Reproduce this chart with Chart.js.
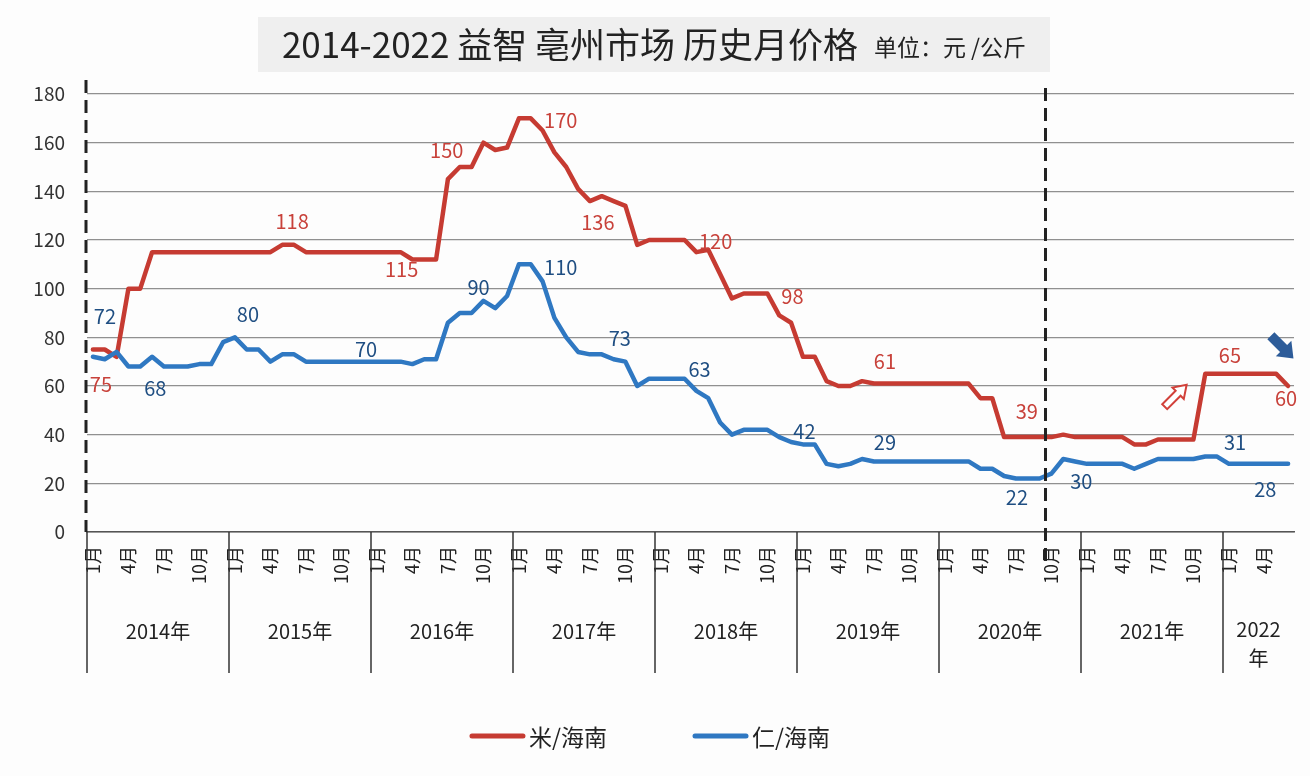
<!DOCTYPE html>
<html>
<head>
<meta charset="utf-8">
<script src="https://cdn.jsdelivr.net/npm/chart.js@4/dist/chart.umd.min.js"></script>
<style>
  html, body { margin: 0; padding: 0; background: #fdfdfd; }
  #wrap { width: 1310px; height: 776px; position: relative; }
</style>
</head>
<body>
<div id="wrap"><canvas id="c" width="1310" height="776"></canvas></div>
<script>
// 2014-2022 益智 亳州市场 历史月价格

const FONT = '"Noto Sans CJK SC", "Noto Sans", sans-serif';

const monthNames = ['1月', '2月', '3月', '4月', '5月', '6月', '7月', '8月', '9月', '10月', '11月', '12月'];
const years = ['2014年', '2015年', '2016年', '2017年', '2018年', '2019年', '2020年', '2021年', '2022年'];
const monthsInYear = [12, 12, 12, 12, 12, 12, 12, 12, 6];

// 米/海南
const riceValues = [
  75, 75, 72, 100, 100, 115, 115, 115, 115, 115, 115, 115,
  115, 115, 115, 115, 118, 118, 115, 115, 115, 115, 115, 115,
  115, 115, 115, 112, 112, 112, 145, 150, 150, 160, 157, 158,
  170, 170, 165, 156, 150, 141, 136, 138, 136, 134, 118, 120,
  120, 120, 120, 115, 116, 106, 96, 98, 98, 98, 89, 86,
  72, 72, 62, 60, 60, 62, 61, 61, 61, 61, 61, 61,
  61, 61, 61, 55, 55, 39, 39, 39, 39, 39, 40, 39,
  39, 39, 39, 39, 36, 36, 38, 38, 38, 38, 65, 65,
  65, 65, 65, 65, 65, 60,
];
// 仁/海南
const kernelValues = [
  72, 71, 74, 68, 68, 72, 68, 68, 68, 69, 69, 78,
  80, 75, 75, 70, 73, 73, 70, 70, 70, 70, 70, 70,
  70, 70, 70, 69, 71, 71, 86, 90, 90, 95, 92, 97,
  110, 110, 103, 88, 80, 74, 73, 73, 71, 70, 60, 63,
  63, 63, 63, 58, 55, 45, 40, 42, 42, 42, 39, 37,
  36, 36, 28, 27, 28, 30, 29, 29, 29, 29, 29, 29,
  29, 29, 29, 26, 26, 23, 22, 22, 22, 24, 30, 29,
  28, 28, 28, 28, 26, 28, 30, 30, 30, 30, 31, 31,
  28, 28, 28, 28, 28, 28,
];

const yTicks = [0, 20, 40, 60, 80, 100, 120, 140, 160, 180];

// month index where the dashed marker sits (between Sep and Oct 2020)
const markerIndex = 80.5;

// value labels: [point index, dx, dy]
const riceNotes = [[0, 8, 35], [17, -2, -23], [26, 1, 17], [31, -13, -17], [37, 30, 2], [42, 8, 21],
  [50, 31, 1], [57, 25, 3], [66, 11, -22], [79, -1, -26], [96, 1, -18], [101, -2, 12]];
const kernelNotes = [[0, 12, -40], [4, 15, 22], [12, 13, -23], [23, 1, -12], [32, 7, -26], [37, 30, 3],
  [43, 18, -16], [50, 15, -9], [57, 37, 2], [66, 11, -19], [78, 1, 19], [82, 18, 22], [95, 18, -14], [100, -11, 26]];

const categories = [];
years.forEach((y, k) => {
  for (let m = 0; m < monthsInYear[k]; m += 1) categories.push(monthNames[m]);
});

const RED = '#c63b32';
const BLUE = '#2f78c2';

function drawArrow(ctx, cx, cy, angle, len, shaft, head, headLen, fill, stroke) {
  ctx.save();
  ctx.translate(cx, cy);
  ctx.rotate(angle);
  const h = len / 2;
  ctx.beginPath();
  ctx.moveTo(-h, -shaft / 2);
  ctx.lineTo(h - headLen, -shaft / 2);
  ctx.lineTo(h - headLen, -head / 2);
  ctx.lineTo(h, 0);
  ctx.lineTo(h - headLen, head / 2);
  ctx.lineTo(h - headLen, shaft / 2);
  ctx.lineTo(-h, shaft / 2);
  ctx.closePath();
  ctx.fillStyle = fill;
  ctx.fill();
  if (stroke) {
    ctx.strokeStyle = stroke;
    ctx.lineWidth = 2;
    ctx.lineJoin = 'miter';
    ctx.stroke();
  }
  ctx.restore();
}

const decorPlugin = {
  id: 'decor',
  beforeDraw(chart) {
    const { ctx } = chart;
    // title box
    ctx.save();
    ctx.fillStyle = '#efefef';
    ctx.fillRect(258, 17, 792, 55);
    const main = '2014-2022 益智 亳州市场 历史月价格';
    const unit = '单位：元 /公斤';
    ctx.font = `35px ${FONT}`;
    const w1 = ctx.measureText(main).width;
    ctx.font = `23px ${FONT}`;
    const w2 = ctx.measureText(unit).width;
    const gap = 16;
    let x = 654 - (w1 + gap + w2) / 2;
    ctx.fillStyle = '#222';
    ctx.textBaseline = 'middle';
    ctx.textAlign = 'left';
    ctx.font = `35px ${FONT}`;
    ctx.fillText(main, x, 45);
    x += w1 + gap;
    ctx.font = `23px ${FONT}`;
    ctx.fillText(unit, x, 47);
    ctx.restore();
  },
  afterDatasetsDraw(chart) {
    const { ctx, chartArea } = chart;
    const xs = chart.scales.x;
    const ys = chart.scales.y;
    ctx.save();

    // dashed left axis and dashed marker
    ctx.strokeStyle = '#222';
    ctx.lineWidth = 3;
    ctx.setLineDash([13, 7]);
    ctx.beginPath();
    ctx.moveTo(chartArea.left - 1, 80);
    ctx.lineTo(chartArea.left - 1, chartArea.bottom);
    const mx = xs.getPixelForValue(markerIndex);
    ctx.moveTo(mx, 88);
    ctx.lineTo(mx, chartArea.bottom + 32);
    ctx.stroke();
    ctx.setLineDash([]);

    // year separators and year labels
    const bottom = chartArea.bottom + 141;
    ctx.strokeStyle = '#333';
    ctx.lineWidth = 1.5;
    let start = 0;
    ctx.fillStyle = '#222';
    ctx.font = `20px ${FONT}`;
    ctx.textAlign = 'center';
    ctx.textBaseline = 'middle';
    years.forEach((y, k) => {
      const x0 = xs.getPixelForValue(start - 0.5);
      const x1 = xs.getPixelForValue(start + monthsInYear[k] - 0.5);
      ctx.beginPath();
      ctx.moveTo(x0, chartArea.bottom);
      ctx.lineTo(x0, bottom);
      ctx.stroke();
      const cx = (x0 + x1) / 2;
      if (ctx.measureText(y).width + 10 > x1 - x0) {
        ctx.fillText(y.slice(0, -1), cx, chartArea.bottom + 97);
        ctx.fillText(y.slice(-1), cx, chartArea.bottom + 126);
      } else {
        ctx.fillText(y, cx, chartArea.bottom + 99);
      }
      start += monthsInYear[k];
    });

    // value labels
    ctx.font = `20px ${FONT}`;
    [[riceNotes, riceValues, '#c8413a'], [kernelNotes, kernelValues, '#1f4e82']].forEach(([notes, vals, col]) => {
      ctx.fillStyle = col;
      notes.forEach(([i, dx, dy]) => {
        ctx.fillText(String(vals[i]), xs.getPixelForValue(i) + dx, ys.getPixelForValue(vals[i]) + dy);
      });
    });

    // arrows
    drawArrow(ctx, xs.getPixelForValue(91.5), ys.getPixelForValue(56), -Math.PI / 4, 31, 7, 16, 12, '#ffffff', '#d2413a');
    drawArrow(ctx, xs.getPixelForValue(100.5), ys.getPixelForValue(76), Math.PI / 4, 32, 10, 22, 14, '#2d5c99', null);

    // legend
    const items = chart.data.datasets;
    ctx.font = `23px ${FONT}`;
    ctx.textAlign = 'left';
    const lineLen = 55;
    const itemGap = 86;
    const widths = items.map((d) => lineLen + 4 + ctx.measureText(d.label).width);
    const total = widths.reduce((a, b) => a + b, 0) + itemGap * (items.length - 1);
    let lx = 650 - total / 2;
    const ly = 736;
    items.forEach((d, i) => {
      ctx.strokeStyle = d.borderColor;
      ctx.lineWidth = 5;
      ctx.lineCap = 'round';
      ctx.beginPath();
      ctx.moveTo(lx + 2, ly);
      ctx.lineTo(lx + lineLen - 2, ly);
      ctx.stroke();
      ctx.fillStyle = '#222';
      ctx.fillText(d.label, lx + lineLen + 4, ly + 1);
      lx += widths[i] + itemGap;
    });
    ctx.restore();
  },
};

new Chart(document.getElementById('c'), {
  type: 'line',
  data: {
    labels: categories,
    datasets: [
      {
        label: '米/海南',
        data: riceValues,
        borderColor: RED,
        backgroundColor: RED,
        borderWidth: 4.5,
        pointRadius: 0,
        tension: 0,
        borderJoinStyle: 'round',
        borderCapStyle: 'round',
        order: 2,
      },
      {
        label: '仁/海南',
        data: kernelValues,
        borderColor: BLUE,
        backgroundColor: BLUE,
        borderWidth: 4.5,
        pointRadius: 0,
        tension: 0,
        borderJoinStyle: 'round',
        borderCapStyle: 'round',
        order: 1,
      },
    ],
  },
  options: {
    responsive: false,
    animation: false,
    layout: { padding: { top: 94, right: 16, bottom: 103, left: 0 } },
    plugins: {
      legend: { display: false },
      tooltip: { enabled: false },
      title: { display: false },
    },
    scales: {
      x: {
        offset: true,
        grid: { display: false, drawTicks: false },
        border: { display: true, color: '#555', width: 1.5 },
        ticks: {
          autoSkip: false,
          minRotation: 90,
          maxRotation: 90,
          padding: 14,
          color: '#222',
          font: { size: 18, family: FONT },
          callback(value, index) {
            return index % 3 === 0 ? this.getLabelForValue(value) : '';
          },
        },
        afterFit(scale) {
          scale.height = 141;
          scale.paddingLeft = 0;
          scale.paddingRight = 0;
        },
      },
      y: {
        min: 0,
        max: 180,
        afterBuildTicks(scale) { scale.ticks = yTicks.map((v) => ({ value: v })); },
        grid: { color: '#909090', lineWidth: 1.2, drawTicks: false },
        border: { display: false },
        ticks: {
          padding: 22,
          color: '#333',
          font: { size: 19, family: FONT },
        },
        afterFit(scale) { scale.width = 87; },
      },
    },
  },
  plugins: [decorPlugin],
});
</script>
</body>
</html>
